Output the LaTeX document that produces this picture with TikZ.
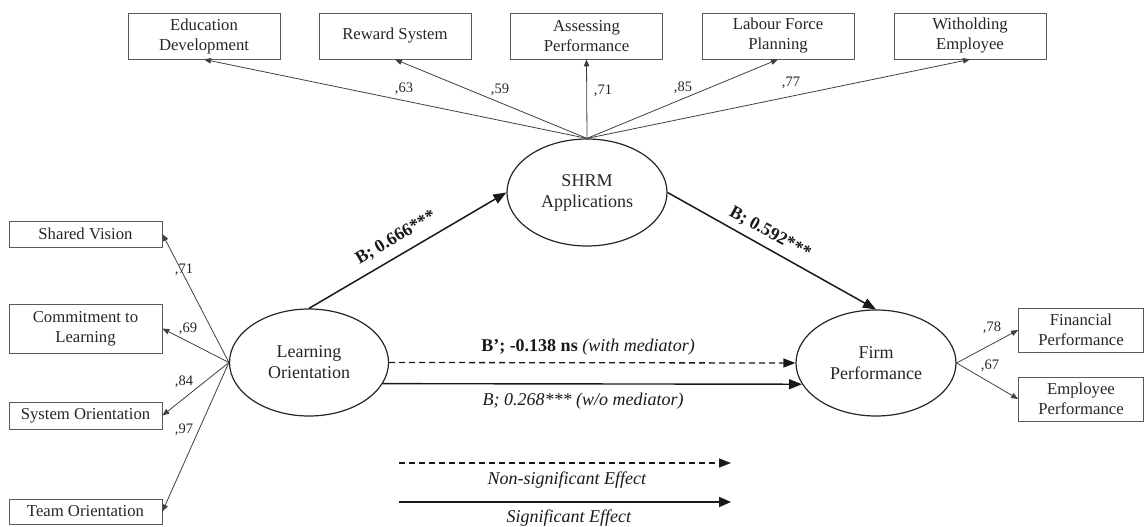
\documentclass[tikz,border=0pt]{standalone}
\usepackage{fontspec}
\setmainfont{Liberation Serif}
\usetikzlibrary{shapes.geometric,arrows.meta,calc}
\begin{document}
\begin{tikzpicture}[x=1pt,y=-1pt,
  box/.style={draw=black!65, line width=0.8pt, align=center, inner sep=0pt,
    font=\fontsize{16.7}{20}\selectfont, text=black!85},
  lat/.style={draw=black!85, ellipse, line width=1.2pt, minimum width=159pt,
    minimum height=107pt, inner sep=0pt, align=center,
    font=\fontsize{18}{21}\selectfont, text=black!85},
  load/.style={draw=black!75, line width=0.8pt, -{Triangle[length=7pt,width=5.5pt]}},
  strpath/.style={draw=black!90, line width=1.5pt, -{Triangle[length=13pt,width=10pt]}},
  nspath/.style={draw=black!90, line width=1.3pt, dash pattern=on 6pt off 4pt,
    -{Triangle[length=12pt,width=9pt]}},
  lbl/.style={font=\fontsize{14.5}{16}\selectfont, text=black!85, inner sep=0pt},
  plbl/.style={font=\fontsize{18}{21}\selectfont, text=black!90, inner sep=0pt},
]
\useasboundingbox (0,0) rectangle (1145,527);

% top indicator boxes
\node[box, minimum width=152pt, minimum height=46pt] (ed) at (204,36) {Education\\Development};
\node[box, minimum width=152pt, minimum height=46pt] (rs) at (395,36) {Reward System};
\node[box, minimum width=152pt, minimum height=46pt] (ap) at (586.5,36) {Assessing\\Performance};
\node[box, minimum width=152pt, minimum height=46pt] (lf) at (778,36) {Labour Force\\Planning};
\node[box, minimum width=152pt, minimum height=46pt] (we) at (970,36) {Witholding\\Employee};

% left indicator boxes
\node[box, minimum width=153pt, minimum height=26pt] (sv) at (85.5,234) {Shared Vision};
\node[box, minimum width=153pt, minimum height=49pt] (cl) at (85.5,328.5) {Commitment to\\Learning};
\node[box, minimum width=153pt, minimum height=27pt] (so) at (85.5,415.5) {System Orientation};
\node[box, minimum width=153pt, minimum height=25pt] (to) at (85.5,511.5) {Team Orientation};

% right indicator boxes
\node[box, minimum width=125pt, minimum height=44pt] (fin) at (1081,330) {Financial\\Performance};
\node[box, minimum width=125pt, minimum height=44pt] (emp) at (1081,399) {Employee\\Performance};

% latent variables
\node[lat] (lo) at (309,362.5) {Learning\\Orientation};
\node[lat, minimum width=160pt] (shrm) at (587,192.5) {SHRM\\Applications};
\node[lat, minimum width=160pt, minimum height=106pt] (fp) at (876,363) {Firm\\Performance};

% loadings
\draw[load] (shrm.north) -- (ed.south);
\draw[load] (shrm.north) -- (rs.south);
\draw[load] (shrm.north) -- (ap.south);
\draw[load] (shrm.north) -- (lf.south);
\draw[load] (shrm.north) -- (we.south);
\draw[load] (lo.west) -- (sv.east);
\draw[load] (lo.west) -- (cl.east);
\draw[load] (lo.west) -- (so.east);
\draw[load] (lo.west) -- (to.east);
\draw[load] (fp.east) -- (fin.west);
\draw[load] (fp.east) -- (emp.west);

\node[lbl] (l63) at (404,89) {,63};
\node[lbl] (l59) at (500,90) {,59};
\node[lbl] (l71a) at (603,91) {,71};
\node[lbl] (l85) at (683,88) {,85};
\node[lbl] (l77) at (791,83) {,77};
\node[lbl] (l71b) at (184,270) {,71};
\node[lbl] (l69) at (188,329) {,69};
\node[lbl] (l84) at (184,382) {,84};
\node[lbl] (l97) at (184,430) {,97};
\node[lbl] (l78) at (992,328) {,78};
\node[lbl] (l67) at (990,366) {,67};

% structural paths
\draw[strpath] (lo.north) -- (shrm.west);
\draw[strpath] (shrm.east) -- (fp.north);
\draw[nspath] (lo.east) -- (fp.west);
\draw[strpath, line width=1.4pt] (lo.-16.6) -- (fp.196.6);

\node[plbl, font=\fontsize{18}{21}\selectfont\bfseries, rotate=30.5] (b1) at (396,238) {B; 0.666***};
\node[plbl, font=\fontsize{18}{21}\selectfont\bfseries, rotate=-28.8] (b2) at (770,233) {B; 0.592***};
\node[plbl] (b3) at (588,347) {\textbf{B’; -0.138 ns} \textit{(with mediator)}};
\node[plbl] (b4) at (583,401) {\textit{B; 0.268*** (w/o mediator)}};

% legend
\coordinate (ns1) at (399,463);
\coordinate (ns2) at (731,463);
\coordinate (s1) at (399,502);
\coordinate (s2) at (731,502);
\draw[nspath] (ns1) -- (ns2);
\draw[strpath, line width=1.6pt, -{Triangle[length=12pt,width=10pt]}] (s1) -- (s2);
\node[plbl] (leg1) at (567,480) {\textit{Non-significant Effect}};
\node[plbl] (leg2) at (569,518) {\textit{Significant Effect}};
\end{tikzpicture}
\end{document}
